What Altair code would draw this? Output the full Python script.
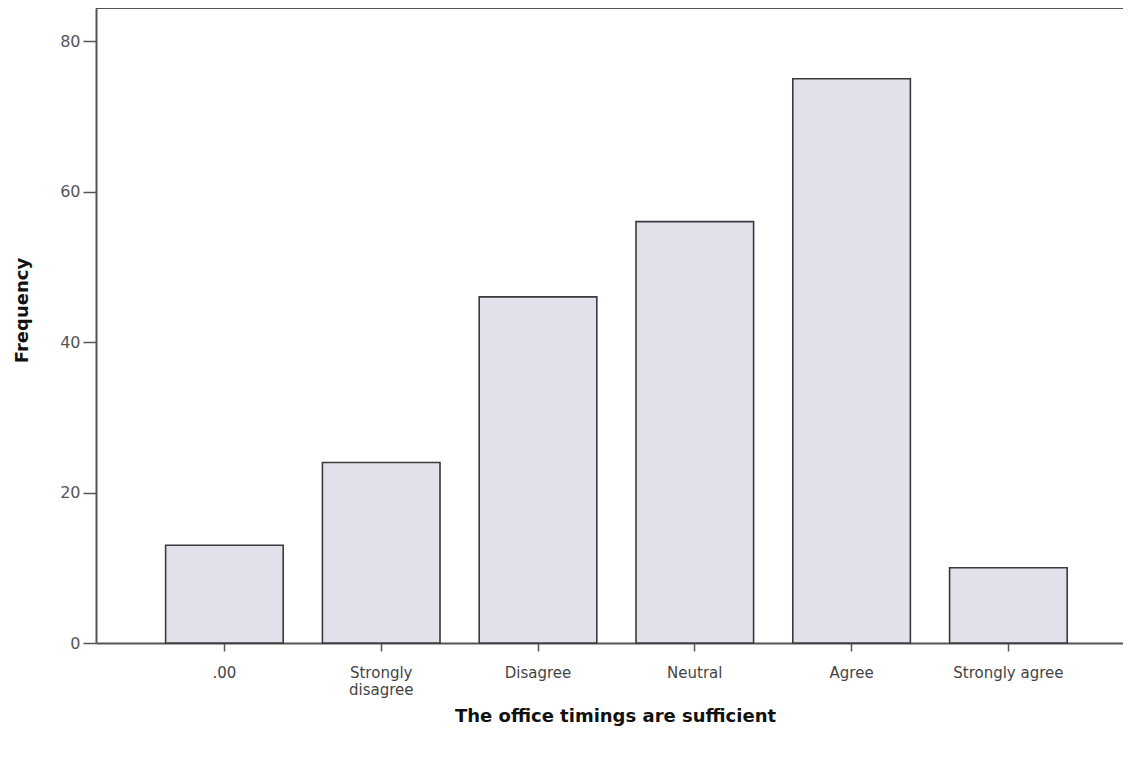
import altair as alt
import pandas as pd

categories = [".00", "Strongly disagree", "Disagree", "Neutral", "Agree", "Strongly agree"]
frequencies = [13, 24, 46, 56, 75, 10]
y_ticks = [0, 20, 40, 60, 80]

df = pd.DataFrame({"category": categories, "frequency": frequencies})

W = 1027
H = 635

label_expr = "datum.value == 'Strongly disagree' ? ['Strongly', 'disagree'] : datum.value"

bars = alt.Chart(df).mark_bar(
    fill="#e3e0ec", stroke="#3a3a3a", strokeWidth=1.6
).encode(
    x=alt.X(
        "category:N",
        sort=categories,
        scale=alt.Scale(paddingInner=0.25, paddingOuter=0.4, align=0.555),
        axis=alt.Axis(
            title="The office timings are sufficient",
            labelAngle=0,
            labelExpr=label_expr,
            labelFont="DejaVu Sans",
            labelFontSize=15,
            labelColor="#444444",
            labelPadding=14,
            labelLineHeight=17,
            tickSize=8,
            tickColor="#555555",
            tickWidth=1.5,
            domainColor="#555555",
            domainWidth=2,
            titleFont="DejaVu Sans",
            titleFontSize=18,
            titleFontWeight="bold",
            titleColor="#111111",
            titleX=519,
            titleY=73,
            titleBaseline="middle",
            titleAlign="center",
        ),
    ),
    y=alt.Y(
        "frequency:Q",
        scale=alt.Scale(domain=[0, 84.4], nice=False),
        axis=alt.Axis(
            title="Frequency",
            values=y_ticks,
            grid=False,
            labelFont="DejaVu Sans",
            labelFontSize=16,
            labelColor="#555555",
            labelPadding=3,
            tickSize=13,
            tickColor="#555555",
            tickWidth=1.5,
            domainColor="#555555",
            domainWidth=2,
            titleFont="DejaVu Sans",
            titleFontSize=18,
            titleFontWeight="bold",
            titleColor="#111111",
            titleX=-74,
            titleY=302,
            titleAngle=270,
            titleBaseline="middle",
            titleAlign="center",
        ),
    ),
)

top_line = alt.Chart(df).mark_rule(color="#555555", strokeWidth=2).encode(
    x=alt.value(0), x2=alt.value(W + 20), y=alt.value(0)
)

chart = alt.layer(bars, top_line).properties(
    width=W,
    height=H,
    autosize=alt.AutoSizeParams(type="none"),
    padding={"left": 88, "top": 0, "right": 0, "bottom": 110},
    background="white",
).configure_view(stroke=None)

chart.save("out.html", embed_options={"renderer": "svg", "actions": False})
